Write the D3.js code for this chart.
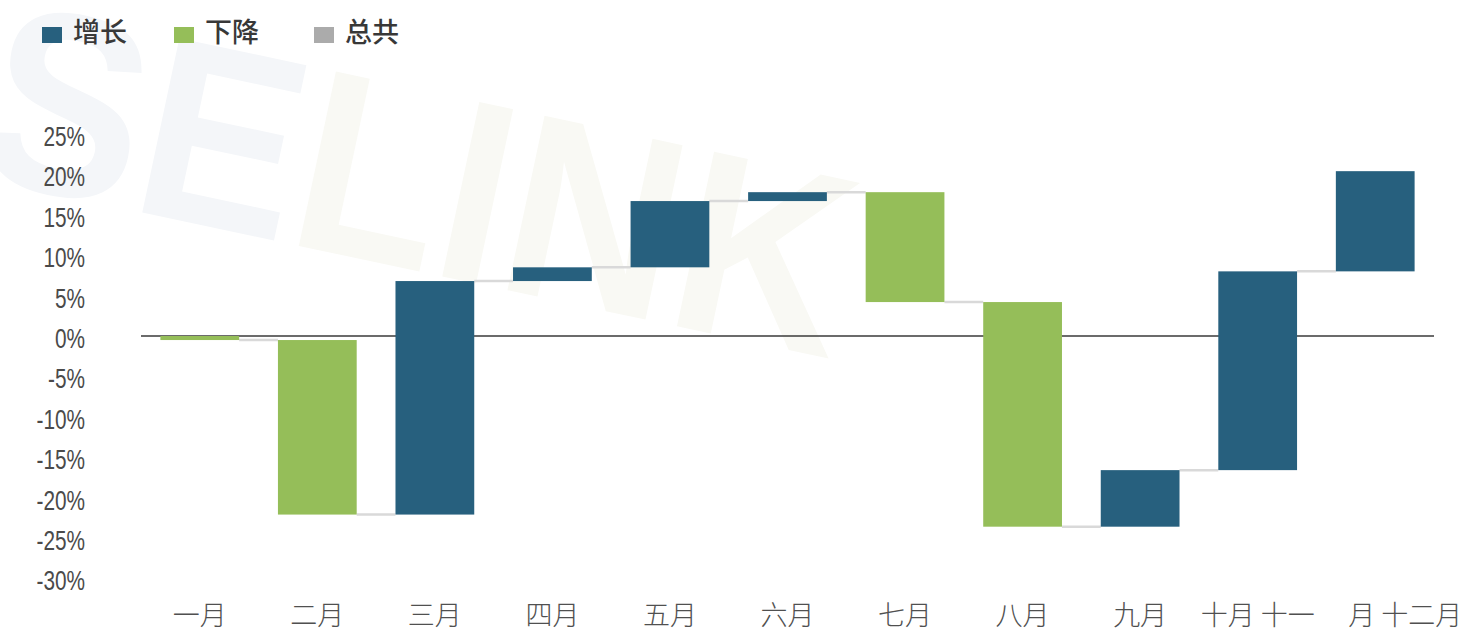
<!DOCTYPE html>
<html>
<head>
<meta charset="utf-8">
<script src="https://cdn.jsdelivr.net/npm/d3@7"></script>
<style>
  body { margin: 0; background: #fff; }
  svg { display: block; }
</style>
</head>
<body>
<svg id="chart" width="1470" height="631"></svg>
<script>
// Monthly waterfall: each bar is the change from the previous running total
const categories = ["一月", "二月", "三月", "四月", "五月", "六月", "七月", "八月", "九月", "十月 十一", "月 十二月"];
const deltas = [-0.5, -21.6, 28.9, 1.7, 8.2, 1.1, -13.6, -27.8, 7.0, 24.6, 12.4];
const yTicks = [25, 20, 15, 10, 5, 0, -5, -10, -15, -20, -25, -30];
const legendLabels = ["增长", "下降", "总共"];
const legendColors = ["#27607e", "#95be59", "#ababab"];

const svg = d3.select("#chart");

const x = d3.scaleBand().domain(categories).range([141, 1434])
  .paddingInner(0.33).paddingOuter(0.165);
const y = d3.scaleLinear().domain([-30, 25]).range([578.4, 134]);

// running totals
let run = 0;
const steps = deltas.map((d, i) => {
  const start = run;
  run += d;
  return { cat: categories[i], start, end: run, delta: d };
});

// faint brand watermark behind the plot
const wm = svg.append("text")
  .attr("transform", "translate(-30,176) rotate(12) scale(1,1.08)")
  .attr("font-family", "'Liberation Sans', Arial, sans-serif")
  .attr("font-weight", "bold")
  .attr("font-size", 240);
wm.append("tspan").attr("fill", "#f4f6f9").text("SE");
wm.append("tspan").attr("fill", "#f9f9f4").text("LINK");

// y axis labels (condensed)
svg.append("g").selectAll("text").data(yTicks).join("text")
  .attr("transform", d => `translate(85,${y(d) + 12}) scale(0.8,1.04)`)
  .attr("text-anchor", "end")
  .attr("font-family", "'Liberation Sans', Arial, sans-serif")
  .attr("font-size", 26)
  .attr("fill", "#4a4a4a")
  .text(d => d + "%");

// zero baseline
svg.append("line")
  .attr("x1", 141).attr("x2", 1434)
  .attr("y1", y(0)).attr("y2", y(0))
  .attr("stroke", "#3a3a3a").attr("stroke-width", 1.5);

// connectors between consecutive bars
svg.append("g").selectAll("line").data(steps.slice(0, -1)).join("line")
  .attr("x1", d => x(d.cat) + x.bandwidth())
  .attr("x2", (d, i) => x(steps[i + 1].cat))
  .attr("y1", d => y(d.end))
  .attr("y2", d => y(d.end))
  .attr("stroke", "#d9d9d9").attr("stroke-width", 2.5);

// bars
svg.append("g").selectAll("rect").data(steps).join("rect")
  .attr("x", d => x(d.cat))
  .attr("width", x.bandwidth())
  .attr("y", d => y(Math.max(d.start, d.end)))
  .attr("height", d => Math.abs(y(d.start) - y(d.end)))
  .attr("fill", d => d.delta >= 0 ? legendColors[0] : legendColors[1]);

// x axis labels
svg.append("g").selectAll("text").data(categories).join("text")
  .attr("x", d => x(d) + x.bandwidth() / 2)
  .attr("dx", (d, i) => i === categories.length - 1 ? 30 : 0)
  .attr("y", 625)
  .attr("text-anchor", "middle")
  .attr("font-family", "'Noto Sans CJK SC', sans-serif")
  .attr("font-weight", 300)
  .attr("font-size", 27)
  .attr("fill", "#505050")
  .text(d => d);

// legend
const legendX = [42, 174, 314];
const lg = svg.append("g").selectAll("g").data(legendLabels).join("g")
  .attr("transform", (d, i) => `translate(${legendX[i]},0)`);
lg.append("rect")
  .attr("x", 0).attr("y", 27).attr("width", 20).attr("height", 16)
  .attr("fill", (d, i) => legendColors[i]);
lg.append("text")
  .attr("x", 31).attr("y", 42)
  .attr("font-family", "'Noto Sans CJK SC', sans-serif")
  .attr("font-weight", 500)
  .attr("font-size", 27)
  .attr("fill", "#383838")
  .text(d => d);
</script>
</body>
</html>
